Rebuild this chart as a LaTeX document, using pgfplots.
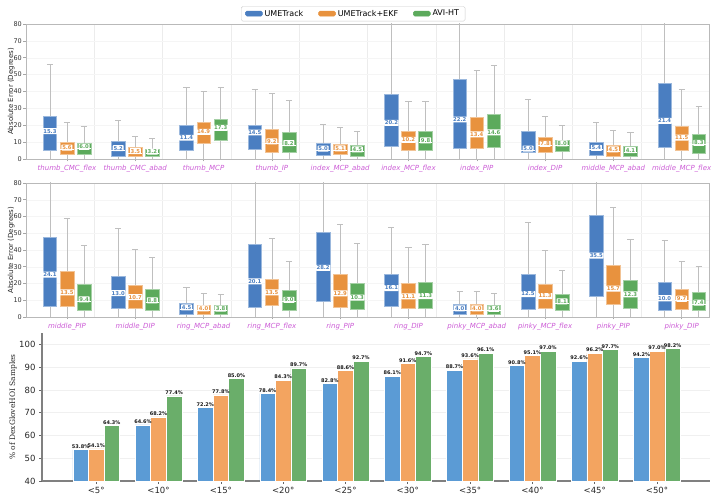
\documentclass[border=0pt]{standalone}
\usepackage{fontspec}
\setmainfont{DejaVu Sans}
\newfontfamily\dvserif{DejaVu Serif}
\usepackage{pgfplots}
\pgfplotsset{compat=1.18}
\usepgfplotslibrary{statistics}

\definecolor{boxblue}{RGB}{74,126,193}
\definecolor{boxorange}{RGB}{232,146,62}
\definecolor{boxgreen}{RGB}{92,170,92}
\definecolor{barblue}{RGB}{91,155,213}
\definecolor{barorange}{RGB}{243,164,96}
\definecolor{bargreen}{RGB}{106,174,106}
\definecolor{labcol}{RGB}{204,92,214}

% pos, lower whisker, lower quartile, median, upper quartile, upper whisker, colour
\newcommand{\bx}[7]{%
 \addplot[forget plot, draw=gray!50, line width=0.6pt,
   boxplot/draw direction=y,
   boxplot prepared={draw position=#1, lower whisker=#2, lower quartile=#3,
     median=#4, upper quartile=#5, upper whisker=#6,
     box extend=0.2, whisker extend=0.09,
     every box/.style={fill=#7, draw=#7!55!white, line width=0.5pt},
     every median/.style={draw=white, line width=1pt}}] coordinates {};
}

\pgfplotsset{
 medlab/.style={
  forget plot, draw=none, mark=none, point meta=y,
  nodes near coords={\pgfmathprintnumber[fixed,fixed zerofill,precision=1]{\pgfplotspointmeta}},
  nodes near coords align={center},
  nodes near coords style={yshift=2pt, fill=white, draw=none,
    text=#1, font=\fontsize{5.3}{5.5}\selectfont\bfseries, inner xsep=0.8pt, inner ysep=1pt, rounded corners=0.6pt}
 },
 boxpanel/.style={
  scale only axis, width=683pt,
  xmin=-0.6, xmax=9.4, ymin=0, ymax=80,
  ytick={0,10,...,80}, xtick={0,...,9},
  minor xtick={0.4,1.4,...,8.4}, xminorgrids, ymajorgrids,
  minor grid style={gray!15, line width=0.4pt},
  major grid style={gray!8, line width=0.4pt},
  minor tick length=0pt,
  axis line style={gray!55, line width=0.6pt},
  tick style={gray!70, line width=0.5pt},
  tick align=outside, major tick length=2.5pt,
  xtick pos=bottom, ytick pos=left,
  /pgf/number format/assume math mode=true,
  yticklabel style={font=\fontsize{6.5}{7}\selectfont, text=black!80, inner xsep=1.5pt},
  xticklabel style={font=\fontsize{7}{8}\selectfont\itshape, text=labcol},
  ylabel={Absolute Error (Degrees)},
  every axis y label/.style={at={(axis description cs:-0.0215,0.5)}, rotate=90, anchor=center,
    font=\fontsize{7}{8}\selectfont, text=black!85},
 }
}

\begin{document}
\begin{tikzpicture}
\useasboundingbox (0pt,0pt) rectangle (719pt,500pt);

% ---------------- top panel ----------------
\begin{axis}[boxpanel, at={(26pt,341pt)}, anchor=south west, height=135pt,
  xticklabels={thumb\_CMC\_flex,thumb\_CMC\_abad,thumb\_MCP,thumb\_IP,index\_MCP\_abad,index\_MCP\_flex,index\_PIP,index\_DIP,middle\_MCP\_abad,middle\_MCP\_flex},
  legend style={at={(0.479,1.02)}, anchor=south, legend columns=3, draw=gray!40,
    rounded corners=1.5pt, font=\fontsize{8}{9}\selectfont, inner xsep=4pt, inner ysep=1.5pt,
    /tikz/every even column/.append style={column sep=13pt}},
  ]
\addlegendimage{legend image code/.code={\fill[boxblue] (0pt,-2.3pt) rectangle (17pt,2.7pt);}}
\addlegendentry{UMETrack}
\addlegendimage{legend image code/.code={\fill[boxorange] (0pt,-2.3pt) rectangle (17pt,2.7pt);}}
\addlegendentry{UMETrack+EKF}
\addlegendimage{legend image code/.code={\fill[boxgreen] (0pt,-2.3pt) rectangle (17pt,2.7pt);}}
\addlegendentry{AVI-HT}

\bx{-0.25}{0}{5.2}{15.3}{25.6}{56.2}{boxblue}
\bx{0}{0}{2.6}{5.6}{10.1}{21.8}{boxorange}
\bx{0.25}{0}{3.0}{6.0}{9.5}{19.4}{boxgreen}
\bx{0.75}{0}{1.8}{5.2}{10.5}{23.0}{boxblue}
\bx{1}{0}{1.4}{3.5}{6.7}{13.5}{boxorange}
\bx{1.25}{0}{1.4}{3.2}{5.8}{12.5}{boxgreen}
\bx{1.75}{0}{5.0}{11.4}{19.8}{42.5}{boxblue}
\bx{2}{0}{9.1}{14.9}{21.6}{40.3}{boxorange}
\bx{2.25}{0}{10.9}{17.3}{23.6}{42.5}{boxgreen}
\bx{2.75}{0}{5.8}{14.5}{19.8}{41.3}{boxblue}
\bx{3}{0}{3.8}{9.2}{17.7}{38.9}{boxorange}
\bx{3.25}{0}{3.8}{8.2}{16.1}{34.5}{boxgreen}
\bx{3.75}{0}{2.2}{5.0}{9.1}{20.4}{boxblue}
\bx{4}{0}{2.6}{5.1}{8.7}{18.5}{boxorange}
\bx{4.25}{0}{1.8}{4.5}{7.9}{16.7}{boxgreen}
\bx{4.75}{0}{7.5}{20.2}{38.5}{90}{boxblue}
\bx{5}{0}{5.0}{10.2}{16.5}{34.1}{boxorange}
\bx{5.25}{0}{5.0}{9.8}{16.5}{34.1}{boxgreen}
\bx{5.75}{0}{6.2}{22.2}{47.4}{90}{boxblue}
\bx{6}{0}{6.2}{13.4}{24.8}{52.6}{boxorange}
\bx{6.25}{0}{6.7}{14.6}{26.6}{55.8}{boxgreen}
\bx{6.75}{0}{4.2}{5.0}{16.5}{35.1}{boxblue}
\bx{7}{0}{4.2}{7.8}{12.9}{25.2}{boxorange}
\bx{7.25}{0}{4.6}{8.0}{10.9}{19.8}{boxgreen}
\bx{7.75}{0}{2.2}{5.4}{9.9}{21.6}{boxblue}
\bx{8}{0}{1.8}{4.5}{7.9}{17.1}{boxorange}
\bx{8.25}{0}{1.8}{4.1}{7.5}{15.7}{boxgreen}
\bx{8.75}{0}{7.1}{21.4}{45.0}{90}{boxblue}
\bx{9}{0}{5.4}{11.5}{19.6}{41.3}{boxorange}
\bx{9.25}{0}{3.6}{8.3}{14.5}{31.2}{boxgreen}

\addplot[medlab=boxblue] coordinates {(-0.25,15.3) (0.75,5.2) (1.75,11.4) (2.75,14.5) (3.75,5.0) (4.75,20.2) (5.75,22.2) (6.75,5.0) (7.75,5.4) (8.75,21.4)};
\addplot[medlab=boxorange] coordinates {(0,5.6) (1,3.5) (2,14.9) (3,9.2) (4,5.1) (5,10.2) (6,13.4) (7,7.8) (8,4.5) (9,11.5)};
\addplot[medlab=boxgreen] coordinates {(0.25,6.0) (1.25,3.2) (2.25,17.3) (3.25,8.2) (4.25,4.5) (5.25,9.8) (6.25,14.6) (7.25,8.0) (8.25,4.1) (9.25,8.3)};
\end{axis}

% ---------------- middle panel ----------------
\begin{axis}[boxpanel, at={(26pt,183pt)}, anchor=south west, height=134pt,
  xticklabels={middle\_PIP,middle\_DIP,ring\_MCP\_abad,ring\_MCP\_flex,ring\_PIP,ring\_DIP,pinky\_MCP\_abad,pinky\_MCP\_flex,pinky\_PIP,pinky\_DIP},
  ]
\bx{-0.25}{0}{6.2}{24.1}{47.4}{90}{boxblue}
\bx{0}{0}{6.2}{13.5}{27.2}{59.0}{boxorange}
\bx{0.25}{0}{4.2}{9.4}{19.6}{43.0}{boxgreen}
\bx{0.75}{0}{5.0}{13.0}{24.4}{53.0}{boxblue}
\bx{1}{0}{5.0}{10.7}{19.2}{40.2}{boxorange}
\bx{1.25}{0}{4.0}{8.8}{16.4}{35.6}{boxgreen}
\bx{1.75}{0}{1.8}{4.5}{8.2}{17.6}{boxblue}
\bx{2}{0}{1.8}{4.0}{7.2}{14.4}{boxorange}
\bx{2.25}{0}{1.8}{3.8}{6.8}{13.4}{boxgreen}
\bx{2.75}{0}{5.6}{20.1}{43.6}{90}{boxblue}
\bx{3}{0}{6.8}{13.5}{22.8}{47.2}{boxorange}
\bx{3.25}{0}{4.2}{9.0}{16.0}{33.2}{boxgreen}
\bx{3.75}{0}{9.6}{28.2}{50.4}{90}{boxblue}
\bx{4}{0}{5.6}{12.9}{25.6}{55.4}{boxorange}
\bx{4.25}{0}{4.6}{10.3}{20.0}{44.0}{boxgreen}
\bx{4.75}{0}{6.4}{16.1}{25.6}{53.8}{boxblue}
\bx{5}{0}{5.4}{11.1}{20.2}{41.6}{boxorange}
\bx{5.25}{0}{5.4}{11.3}{20.8}{43.4}{boxgreen}
\bx{5.75}{0}{1.4}{4.0}{7.4}{15.4}{boxblue}
\bx{6}{0}{1.6}{4.0}{7.4}{15.4}{boxorange}
\bx{6.25}{0}{1.6}{3.6}{6.8}{14.2}{boxgreen}
\bx{6.75}{0}{4.4}{12.5}{25.4}{56.4}{boxblue}
\bx{7}{0}{5.4}{11.3}{19.6}{39.8}{boxorange}
\bx{7.25}{0}{4.2}{8.1}{13.6}{27.6}{boxgreen}
\bx{7.75}{0}{12.2}{35.5}{60.6}{90}{boxblue}
\bx{8}{0}{7.4}{15.7}{30.6}{65.2}{boxorange}
\bx{8.25}{0}{5.4}{12.3}{22.0}{46.4}{boxgreen}
\bx{8.75}{0}{4.2}{10.0}{20.8}{45.6}{boxblue}
\bx{9}{0}{4.8}{9.7}{16.4}{33.2}{boxorange}
\bx{9.25}{0}{3.8}{7.4}{14.6}{30.4}{boxgreen}

\addplot[medlab=boxblue] coordinates {(-0.25,24.1) (0.75,13.0) (1.75,4.5) (2.75,20.1) (3.75,28.2) (4.75,16.1) (5.75,4.0) (6.75,12.5) (7.75,35.5) (8.75,10.0)};
\addplot[medlab=boxorange] coordinates {(0,13.5) (1,10.7) (2,4.0) (3,13.5) (4,12.9) (5,11.1) (6,4.0) (7,11.3) (8,15.7) (9,9.7)};
\addplot[medlab=boxgreen] coordinates {(0.25,9.4) (1.25,8.8) (2.25,3.8) (3.25,9.0) (4.25,10.3) (5.25,11.3) (6.25,3.6) (7.25,8.1) (8.25,12.3) (9.25,7.4)};
\end{axis}

% ---------------- bottom panel ----------------
\begin{axis}[at={(42pt,19pt)}, anchor=south west, scale only axis,
  width=668pt, height=148pt,
  xmin=-0.87, xmax=9.85, ymin=40, ymax=105,
  ybar, bar width=0.25,
  ytick={40,50,...,100}, xtick={0,...,9},
  xticklabels={<5°,<10°,<15°,<20°,<25°,<30°,<35°,<40°,<45°,<50°},
  axis x line*=bottom, axis y line*=left,
  axis line style={black!50, line width=1.1pt},
  tick style={black!60, line width=0.6pt}, tick align=outside, major tick length=3pt,
  ymajorgrids, major grid style={gray!12, line width=0.5pt},
  /pgf/number format/assume math mode=true,
  ticklabel style={font=\fontsize{8.5}{9}\selectfont, text=black!85},
  ylabel={\% of DexGloveHOI Samples},
  every axis y label/.style={at={(axis description cs:-0.0434,0.5)}, rotate=90, anchor=center,
    font=\dvserif\fontsize{7.5}{8}\selectfont, text=black!85},
  nodes near coords={\pgfmathprintnumber[fixed,fixed zerofill,precision=1]{\pgfplotspointmeta}\%},
  nodes near coords style={font=\fontsize{5}{5}\selectfont\bfseries, text=black!90, inner sep=1pt, anchor=south},
  ]
\addplot[bar shift=-0.25, fill=barblue, draw=white, line width=0.5pt]
  coordinates {(0,53.8) (1,64.6) (2,72.2) (3,78.4) (4,82.8) (5,86.1) (6,88.7) (7,90.8) (8,92.6) (9,94.2)};
\addplot[bar shift=0, fill=barorange, draw=white, line width=0.5pt]
  coordinates {(0,54.1) (1,68.2) (2,77.8) (3,84.3) (4,88.6) (5,91.6) (6,93.6) (7,95.1) (8,96.2) (9,97.0)};
\addplot[bar shift=0.25, fill=bargreen, draw=white, line width=0.5pt]
  coordinates {(0,64.3) (1,77.4) (2,85.0) (3,89.7) (4,92.7) (5,94.7) (6,96.1) (7,97.0) (8,97.7) (9,98.2)};
\end{axis}
\end{tikzpicture}
\end{document}
